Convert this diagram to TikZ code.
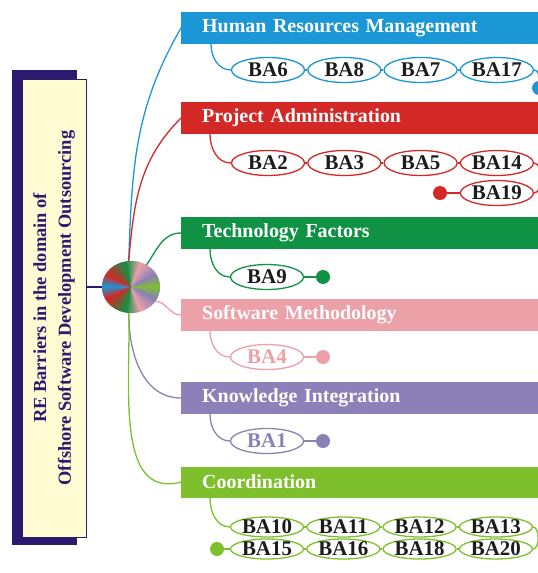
\documentclass[tikz,border=0pt]{standalone}
\usepackage{fontspec}
\setmainfont{Liberation Serif}
\usepackage{tikz}
\usetikzlibrary{positioning,shapes.geometric}
\definecolor{RBblue}{RGB}{27,150,214}
\definecolor{RBred}{RGB}{212,40,38}
\definecolor{RBgreen}{RGB}{16,146,68}
\definecolor{RBpink}{RGB}{236,160,168}
\definecolor{RBpurple}{RGB}{139,128,184}
\definecolor{RBlime}{RGB}{125,192,44}
\definecolor{RBnavy}{RGB}{44,26,110}
\definecolor{RBcream}{RGB}{255,252,212}
\definecolor{RBink}{RGB}{28,28,28}
\tikzset{
  titlebox/.style={rectangle,draw=RBnavy,line width=0.8pt,fill=RBcream,
                   text=RBnavy,align=center,inner sep=0pt,
                   font=\fontsize{18.5}{25}\selectfont\bfseries,
                   minimum width=458bp,minimum height=64bp},
  catbar/.style={rectangle,anchor=west,text=white,align=left,
                 text width=340bp,inner xsep=21bp,inner ysep=0pt,
                 minimum height=32bp,font=\fontsize{20}{22}\selectfont\bfseries},
  banode/.style={ellipse,draw,fill=white,line width=1.3pt,inner sep=0pt,
                 minimum width=73bp,minimum height=25bp,text=RBink,
                 font=\fontsize{21}{22}\selectfont\bfseries},
  flatnode/.style={banode,minimum height=20bp},
  enddot/.style={circle,inner sep=0pt,minimum size=14bp},
  br/.style={line width=1.3pt}
}
\begin{document}
\begin{tikzpicture}[x=1bp,y=-1bp]
  \useasboundingbox (0,0) rectangle (538,573);
  \clip (0,0) rectangle (538,573);

  % title box with shadow
  \fill[RBnavy] (12,70) rectangle (77,545);
  \node[titlebox,rotate=90] (title) at (54,308) {RE Barriers in the domain of\\Offshore Software Development Outsourcing};
  \node[ellipse,inner sep=0pt,minimum width=58bp,minimum height=52bp] (hub) at (131,287) {};

  % category bars
  \node[catbar,fill=RBblue]   (hrm)  at (181,28)  {Human Resources Management};
  \node[catbar,fill=RBred]    (pa)   at (181,118) {Project Administration};
  \node[catbar,fill=RBgreen]  (tf)   at (181,233) {Technology Factors};
  \node[catbar,fill=RBpink]   (sm)   at (181,315) {Software Methodology};
  \node[catbar,fill=RBpurple] (ki)   at (181,398) {Knowledge Integration};
  \node[catbar,fill=RBlime,minimum height=31bp] (coord) at (181,482) {Coordination};

  % hub to bars
  \draw[br,RBnavy] (title.south |- hub.west) -- (hub.west);
  \draw[br,RBblue]   (hub.95)  to[out=88,in=-120] (hrm.west);
  \draw[br,RBred]    (hub.95)  to[out=85,in=-135] (pa.west);
  \draw[br,RBgreen]  (hub.55)  to[out=55,in=180]  (tf.west);
  \draw[br,RBpink]   (hub.-30) to[out=-5,in=180]  (sm.west);
  \draw[br,RBpurple] (hub.-95) to[out=-90,in=180] (ki.west);
  \draw[br,RBlime]   (hub.-95) to[out=-88,in=-165] (coord.west);

  % colour wheel
  \foreach \a/\b/\ca/\cb in {180/150/RBblue/RBred,150/100/RBred/RBgreen,100/70/RBgreen/RBpink,70/30/RBpink/RBpurple,30/0/RBpurple/RBlime}{
    \foreach \i in {0,...,7}{
      \pgfmathsetmacro\s{\a+(\b-\a)*(\i-0.4)/8}
      \pgfmathsetmacro\m{\a+(\b-\a)*(\i+0.5)/8}
      \pgfmathsetmacro\e{\a+(\b-\a)*(\i+1.4)/8}
      \pgfmathtruncatemacro\p{100-\i*100/8}
      \fill[\ca!\p!\cb] (hub.center) -- +(\s:29 and 26) -- +(\m:29 and 26) -- +(\e:29 and 26) -- cycle;
      \fill[\ca!\p!\cb] (hub.center) -- +(-\s:29 and 26) -- +(-\m:29 and 26) -- +(-\e:29 and 26) -- cycle;
    }
  }

  % Human Resources Management
  \node[banode,draw=RBblue] (ba6) at (268,70) {BA6};
  \node[banode,draw=RBblue,right=2bp of ba6] (ba8) {BA8};
  \node[banode,draw=RBblue,right=2bp of ba8] (ba7) {BA7};
  \node[banode,draw=RBblue,right=2bp of ba7] (ba17) {BA17};
  \node[enddot,fill=RBblue] (hrmdot) at (539,88) {};
  \draw[br,RBblue] ([xshift=30bp]hrm.south west) to[out=-90,in=180] (ba6.west);
  \draw[br,RBblue] (ba6) -- (ba8) -- (ba7) -- (ba17);
  \draw[br,RBblue] (ba17.east) to[out=0,in=90] (hrmdot.north);

  % Project Administration
  \node[banode,draw=RBred] (ba2) at (268,163) {BA2};
  \node[banode,draw=RBred,right=2bp of ba2] (ba3) {BA3};
  \node[banode,draw=RBred,right=2bp of ba3] (ba5) {BA5};
  \node[banode,draw=RBred,right=2bp of ba5] (ba14) {BA14};
  \node[banode,draw=RBred] (ba19) at (ba14.center |- 0,193) {BA19};
  \node[enddot,fill=RBred] (padot) at (440,193) {};
  \draw[br,RBred] ([xshift=29bp]pa.south west) to[out=-90,in=180] (ba2.west);
  \draw[br,RBred] (ba2) -- (ba3) -- (ba5) -- (ba14);
  \draw[br,RBred] (ba14.east) to[out=0,in=0,looseness=0.8] (ba19.east);
  \draw[br,RBred] (ba19) -- (padot);

  % Technology Factors
  \node[banode,draw=RBgreen] (ba9) at (267,277) {BA9};
  \node[enddot,fill=RBgreen] (tfdot) at (323,277) {};
  \draw[br,RBgreen] ([xshift=29bp]tf.south west) to[out=-90,in=180] (ba9.west);
  \draw[br,RBgreen] (ba9) -- (tfdot);

  % Software Methodology
  \node[banode,draw=RBpink,text=RBpink] (ba4) at (267,357) {BA4};
  \node[enddot,fill=RBpink] (smdot) at (323,357) {};
  \draw[br,RBpink] ([xshift=29bp]sm.south west) to[out=-90,in=180] (ba4.west);
  \draw[br,RBpink] (ba4) -- (smdot);

  % Knowledge Integration
  \node[banode,draw=RBpurple,text=RBpurple] (ba1) at (267,441) {BA1};
  \node[enddot,fill=RBpurple] (kidot) at (323,441) {};
  \draw[br,RBpurple] ([xshift=29bp]ki.south west) to[out=-90,in=180] (ba1.west);
  \draw[br,RBpurple] (ba1) -- (kidot);

  % Coordination
  \node[flatnode,draw=RBlime] (ba10) at (267,527) {BA10};
  \node[flatnode,draw=RBlime,right=2bp of ba10] (ba11) {BA11};
  \node[flatnode,draw=RBlime,right=2bp of ba11] (ba12) {BA12};
  \node[flatnode,draw=RBlime,right=2bp of ba12] (ba13) {BA13};
  \node[flatnode,draw=RBlime] (ba15) at (267,549) {BA15};
  \node[flatnode,draw=RBlime,right=2bp of ba15] (ba16) {BA16};
  \node[flatnode,draw=RBlime,right=2bp of ba16] (ba18) {BA18};
  \node[flatnode,draw=RBlime,right=2bp of ba18] (ba20) {BA20};
  \node[enddot,fill=RBlime] (codot) at (217,549) {};
  \draw[br,RBlime] ([xshift=29bp]coord.south west) to[out=-90,in=180] (ba10.west);
  \draw[br,RBlime] (ba10) -- (ba11) -- (ba12) -- (ba13);
  \draw[br,RBlime] (ba13.east) to[out=0,in=0,looseness=0.8] (ba20.east);
  \draw[br,RBlime] (ba20) -- (ba18) -- (ba16) -- (ba15) -- (codot);
\end{tikzpicture}
\end{document}
